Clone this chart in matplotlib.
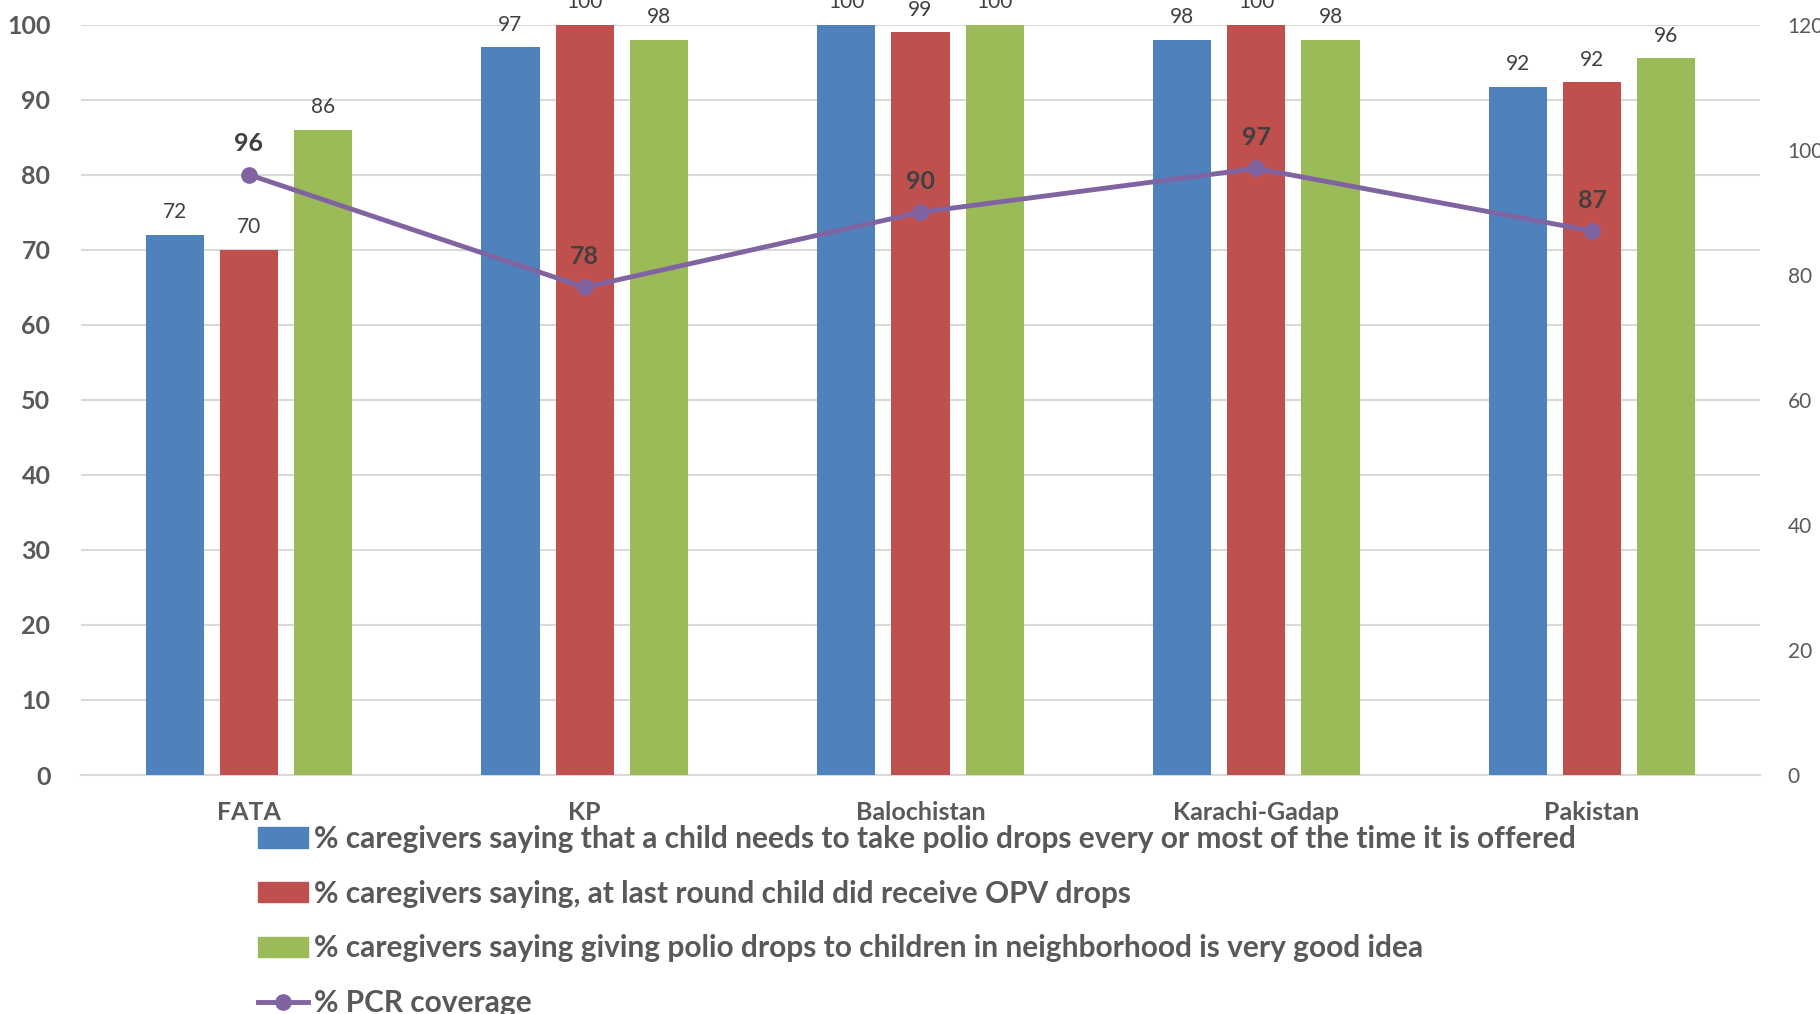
import matplotlib
matplotlib.use("Agg")
import matplotlib.pyplot as plt
import numpy as np
from matplotlib.lines import Line2D
from matplotlib.patches import Patch

plt.rcParams['font.family'] = ['Lato', 'DejaVu Sans']

categories = ["FATA", "KP", "Balochistan", "Karachi-Gadap", "Pakistan"]
need_drops = [72, 97, 100, 98, 91.7]
received_opv = [70, 100, 99, 100, 92.3]
good_idea = [86, 98, 100, 98, 95.5]
pcr_coverage = [96, 78, 90, 97, 87]

series_labels = [
    "% caregivers saying that a child needs to take polio drops every or most of the time it is offered",
    "% caregivers saying, at last round child did receive OPV drops",
    "% caregivers saying giving polio drops to children in neighborhood is very good idea",
    "% PCR coverage",
]
colors = ["#4F81BD", "#C0504D", "#9BBB59", "#8064A2"]
left_ticks = [0, 10, 20, 30, 40, 50, 60, 70, 80, 90, 100]
right_ticks = [0, 20, 40, 60, 80, 100, 120]

TXT = "#595959"
LBL = "#404040"

fig = plt.figure(figsize=(18.2, 10.14), dpi=100)
ax = fig.add_axes([0.0445, 0.2357, 0.9225, 0.7400])
ax2 = ax.twinx()

x = np.arange(len(categories))
w = 0.173
off = 0.221
for i, vals in enumerate([need_drops, received_opv, good_idea]):
    xs = x + (i - 1) * off
    ax.bar(xs, vals, width=w, color=colors[i], zorder=3)
    for xx, v in zip(xs, vals):
        ax.annotate(f"{v:.0f}", (xx, v), xytext=(0, 9), textcoords="offset points",
                    ha="center", va="bottom", fontsize=15, color=LBL, annotation_clip=False)

ax.set_xlim(-0.5, len(categories) - 0.5)
ax.set_ylim(0, 100)
ax.set_yticks(left_ticks)
ax.set_xticks(x)
ax.set_xticklabels(categories)
ax.tick_params(axis="x", length=0, pad=19, labelsize=18, labelcolor=TXT)
ax.tick_params(axis="y", length=0, pad=22, labelsize=18, labelcolor=TXT)
for t in ax.get_yticklabels() + ax.get_xticklabels():
    t.set_fontweight("bold")
ax.grid(axis="y", color="#D9D9D9", linewidth=1.5, zorder=0)
ax.set_axisbelow(True)
for s in ["top", "right", "left"]:
    ax.spines[s].set_visible(False)
ax.spines["bottom"].set_color("#D9D9D9")
ax.spines["bottom"].set_linewidth(1.5)

ax2.plot(x, pcr_coverage, color=colors[3], linewidth=3.5, marker="o", markersize=11, zorder=5)
for xx, v in zip(x, pcr_coverage):
    ax2.annotate(f"{v}", (xx, v), xytext=(0, 14), textcoords="offset points",
                 ha="center", va="bottom", fontsize=18, fontweight="bold", color=LBL)
ax2.set_ylim(0, 120)
ax2.set_yticks(right_ticks)
ax2.tick_params(axis="y", length=0, pad=20, labelsize=15, labelcolor=TXT)
for s in ["top", "right", "left", "bottom"]:
    ax2.spines[s].set_visible(False)

handles = [Patch(color=colors[0]), Patch(color=colors[1]), Patch(color=colors[2]),
           Line2D([0], [0], color=colors[3], linewidth=3.5, marker="o", markersize=11)]
leg = fig.legend(handles, series_labels, loc="center left", bbox_to_anchor=(0.1416, 0.0917),
                 frameon=False, fontsize=21.5, labelspacing=0.895, handlelength=1.67,
                 handleheight=0.66, handletextpad=0.2, borderpad=0, borderaxespad=0)
for t in leg.get_texts():
    t.set_color(TXT)
    t.set_fontweight("bold")

fig.savefig("out.png", dpi=100)
